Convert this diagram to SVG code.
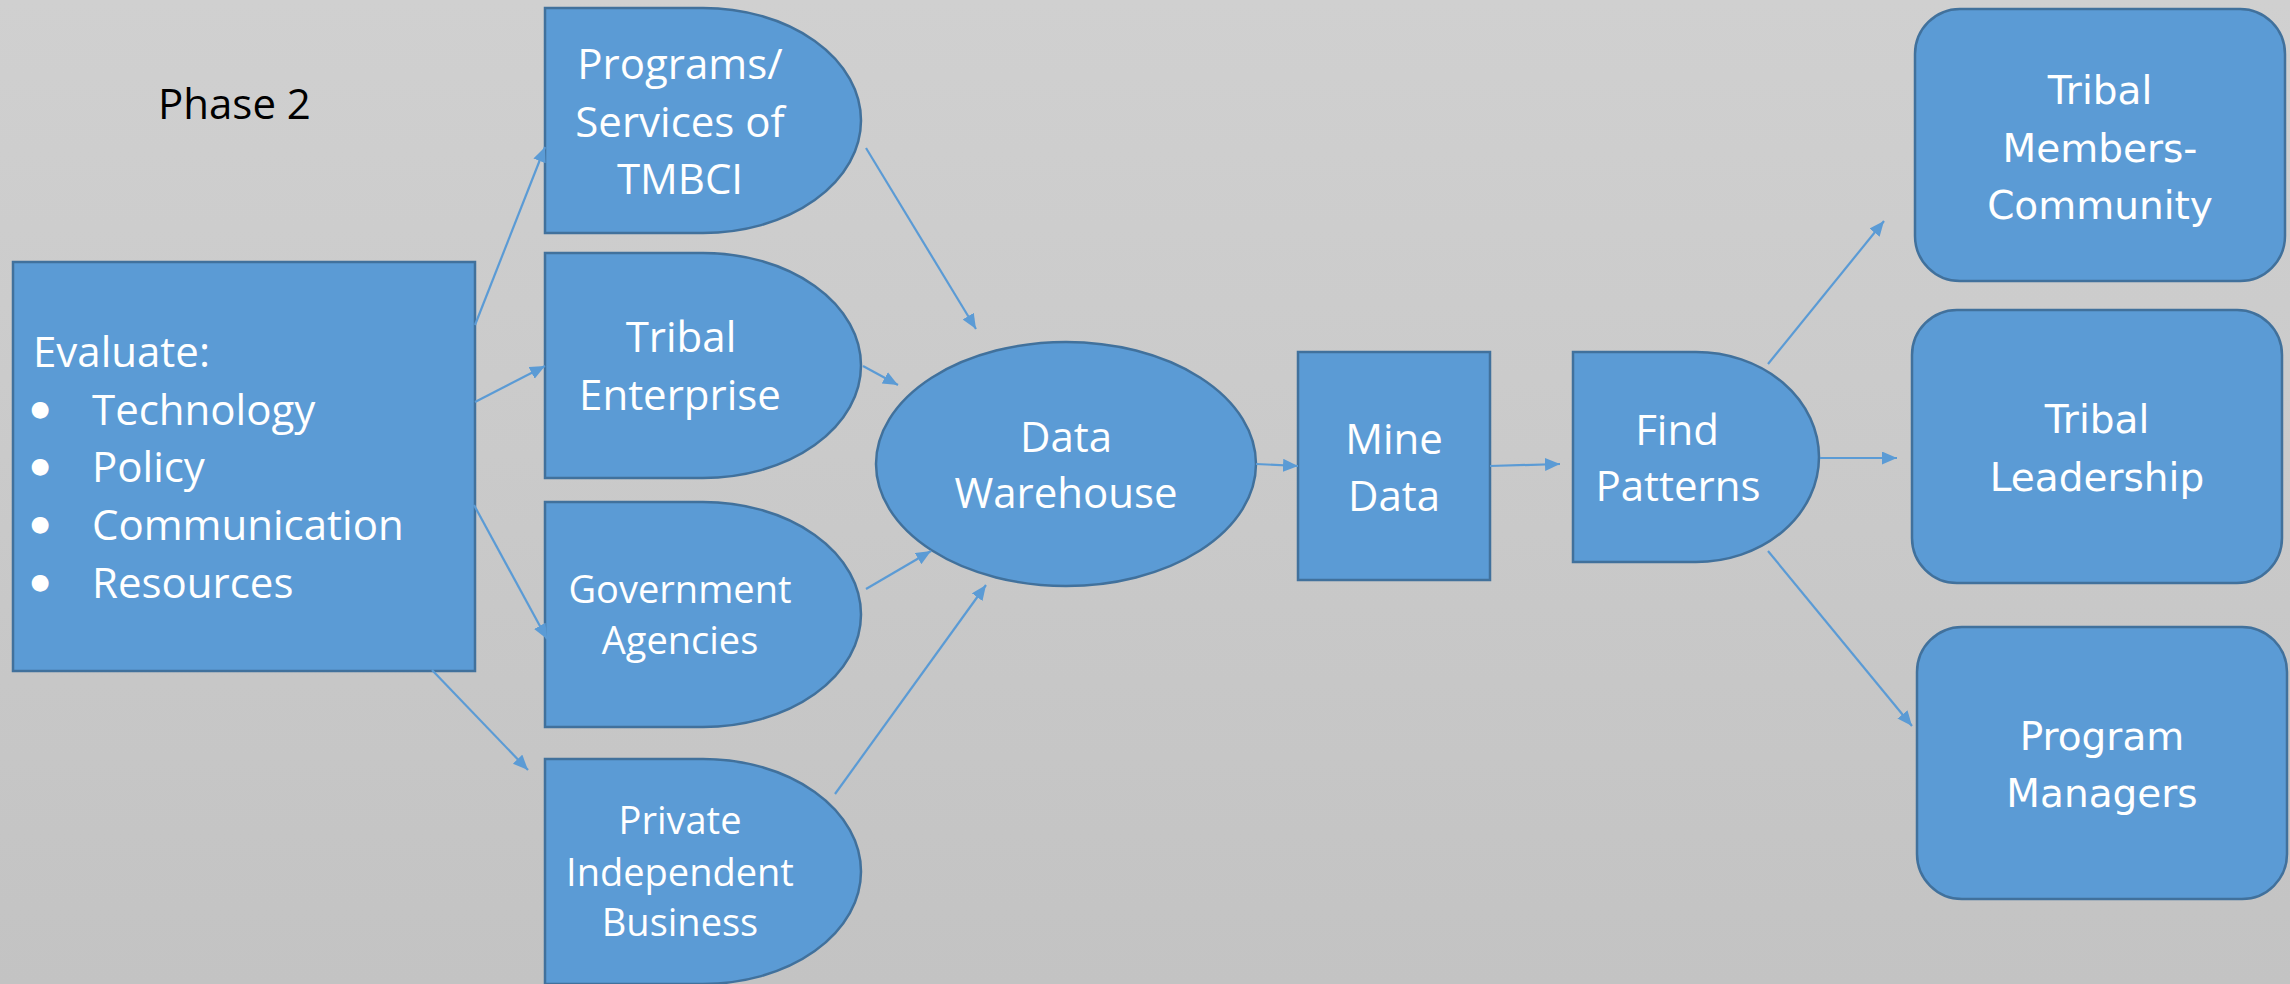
<svg xmlns="http://www.w3.org/2000/svg" width="2290" height="984" viewBox="0 0 2290 984">
  <defs>
    <linearGradient id="bg" x1="0" y1="0" x2="0" y2="1">
      <stop offset="0" stop-color="#D0D0D0"/>
      <stop offset="1" stop-color="#C3C3C3"/>
    </linearGradient>
    <marker id="arr" markerUnits="userSpaceOnUse" markerWidth="16" markerHeight="14" refX="15" refY="6.5" orient="auto">
      <path d="M0,0 L15,6.5 L0,13 Z" fill="#5B9BD5"/>
    </marker>
    <style>
      .shape { fill: #5B9BD5; stroke: #41719C; stroke-width: 2.5; }
      .t { font-family: "Open Sans", "Liberation Sans", sans-serif; fill: #FFFFFF; font-size: 42px; text-anchor: middle; }
      .ts { font-family: "Open Sans", "Liberation Sans", sans-serif; fill: #FFFFFF; font-size: 38px; text-anchor: middle; }
      .tv { font-family: "DejaVu Sans", "Verdana", sans-serif; fill: #FFFFFF; font-size: 39px; text-anchor: middle; }
      .tl { font-family: "Open Sans", "Liberation Sans", sans-serif; fill: #FFFFFF; font-size: 42px; }
      .bul { font-family: "DejaVu Sans", sans-serif; fill: #FFFFFF; font-size: 22px; text-anchor: middle; }
      .conn line { stroke: #5B9BD5; stroke-width: 2.2; marker-end: url(#arr); }
    </style>
  </defs>
  <rect x="0" y="0" width="2290" height="984" fill="url(#bg)"/>

  <text x="158" y="119" font-family="Open Sans, Liberation Sans, sans-serif" font-size="42" fill="#000000">Phase 2</text>

  <g id="evaluate">
    <rect class="shape" x="13" y="262" width="462" height="409"/>
    <text class="tl" x="33" y="367">Evaluate:</text>
    <text class="bul" x="40" y="416">●</text>
    <text class="tl" x="92" y="425">Technology</text>
    <text class="bul" x="40" y="473">●</text>
    <text class="tl" x="92" y="482">Policy</text>
    <text class="bul" x="40" y="531">●</text>
    <text class="tl" x="92" y="540">Communication</text>
    <text class="bul" x="40" y="589">●</text>
    <text class="tl" x="92" y="598">Resources</text>
  </g>

  <g id="programs">
    <path class="shape" d="M545,8 H703 A158 112.5 0 0 1 703,233 H545 Z"/>
    <text class="t" x="680" y="79">Programs/</text>
    <text class="t" x="680" y="137">Services of</text>
    <text class="t" x="680" y="194">TMBCI</text>
  </g>

  <g id="tribal-enterprise">
    <path class="shape" d="M545,253 H703 A158 112.5 0 0 1 703,478 H545 Z"/>
    <text class="t" x="681" y="352">Tribal</text>
    <text class="t" x="680" y="410">Enterprise</text>
  </g>

  <g id="government">
    <path class="shape" d="M545,502 H703 A158 112.5 0 0 1 703,727 H545 Z"/>
    <text class="ts" x="680" y="603">Government</text>
    <text class="ts" x="680" y="654">Agencies</text>
  </g>

  <g id="private">
    <path class="shape" d="M545,759 H703 A158 112.5 0 0 1 703,984 H545 Z"/>
    <text class="ts" x="680" y="834">Private</text>
    <text class="ts" x="680" y="886">Independent</text>
    <text class="ts" x="680" y="936">Business</text>
  </g>

  <g id="data-warehouse">
    <ellipse class="shape" cx="1066" cy="464" rx="190" ry="122"/>
    <text class="t" x="1066" y="452">Data</text>
    <text class="t" x="1066" y="508">Warehouse</text>
  </g>

  <g id="mine-data">
    <rect class="shape" x="1298" y="352" width="192" height="228"/>
    <text class="t" x="1394" y="454">Mine</text>
    <text class="t" x="1394" y="511">Data</text>
  </g>

  <g id="find-patterns">
    <path class="shape" d="M1573,352 H1696 A123 105 0 0 1 1696,562 H1573 Z"/>
    <text class="t" x="1677" y="445">Find</text>
    <text class="t" x="1678" y="501">Patterns</text>
  </g>

  <g id="tribal-members">
    <rect class="shape" x="1915" y="9" width="370" height="272" rx="45" ry="45"/>
    <text class="tv" x="2100" y="104">Tribal</text>
    <text class="tv" x="2100" y="162">Members-</text>
    <text class="tv" x="2100" y="219">Community</text>
  </g>

  <g id="tribal-leadership">
    <rect class="shape" x="1912" y="310" width="370" height="273" rx="45" ry="45"/>
    <text class="tv" x="2097" y="433">Tribal</text>
    <text class="tv" x="2097" y="491">Leadership</text>
  </g>

  <g id="program-managers">
    <rect class="shape" x="1917" y="627" width="370" height="272" rx="45" ry="45"/>
    <text class="tv" x="2102" y="750">Program</text>
    <text class="tv" x="2102" y="807">Managers</text>
  </g>

  <g id="connectors" class="conn">
    <line x1="475" y1="325" x2="545" y2="147"/>
    <line x1="475" y1="402" x2="545" y2="366"/>
    <line x1="474" y1="505" x2="547" y2="639"/>
    <line x1="432" y1="670" x2="528" y2="770"/>
    <line x1="866" y1="148" x2="976" y2="329"/>
    <line x1="863" y1="366" x2="898" y2="385"/>
    <line x1="866" y1="589" x2="931" y2="551"/>
    <line x1="835" y1="794" x2="986" y2="585"/>
    <line x1="1256" y1="464" x2="1298" y2="466"/>
    <line x1="1490" y1="466" x2="1560" y2="464"/>
    <line x1="1768" y1="364" x2="1884" y2="221"/>
    <line x1="1820" y1="458" x2="1897" y2="458"/>
    <line x1="1768" y1="551" x2="1912" y2="726"/>
  </g>
</svg>
